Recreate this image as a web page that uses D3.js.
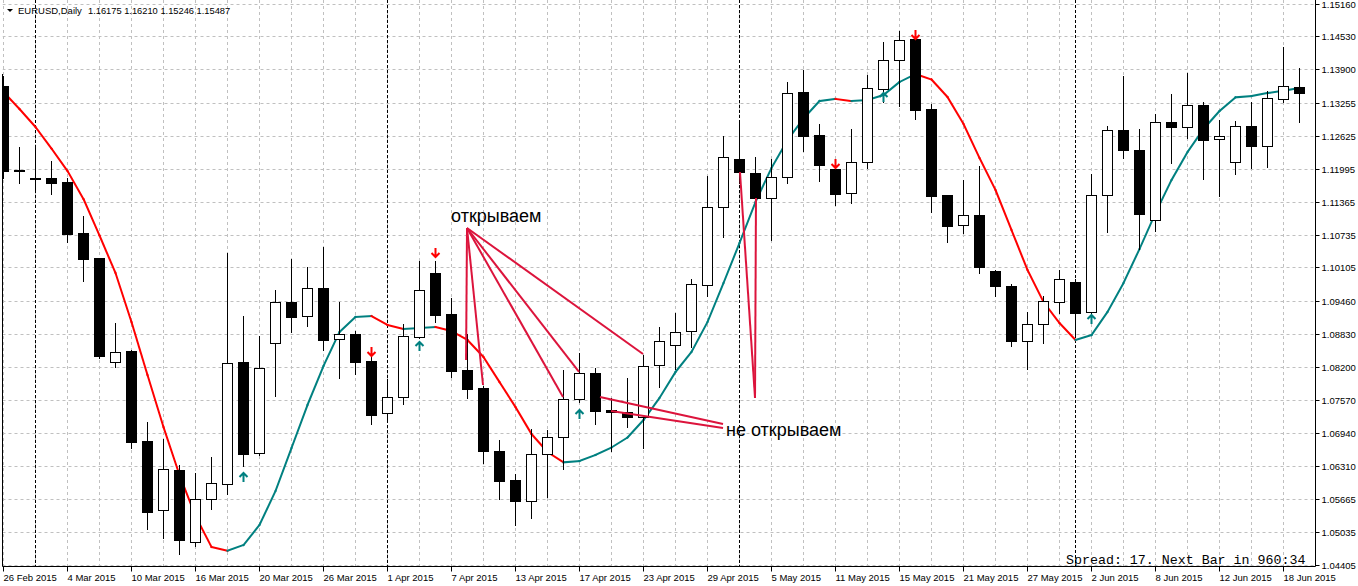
<!DOCTYPE html>
<html>
<head>
<meta charset="utf-8">
<script src="https://cdn.jsdelivr.net/npm/d3@7"></script>
<style>
  body { margin: 0; background: #fff; }
  svg { display: block; }
</style>
</head>
<body>
<div id="chart"></div>
<script>
// EURUSD daily bars, 26 Feb 2015 .. 19 Jun 2015
const firstDay = '2015-02-26';
const lastDay = '2015-06-19';

const openP = [1.13579, 1.11965, 1.11811, 1.11823, 1.11741, 1.10764, 1.10285, 1.08287, 1.08504, 1.06780,
  1.05453, 1.06225, 1.04840, 1.05663, 1.05951, 1.08293, 1.06544, 1.08651, 1.09442, 1.09168,
  1.09705, 1.08728, 1.08824, 1.08312, 1.07322, 1.07617, 1.08778, 1.09998, 1.09207, 1.08140,
  1.07789, 1.06588, 1.06033, 1.05637, 1.06525, 1.06851, 1.07579, 1.08077, 1.07374, 1.07330,
  1.07236, 1.08230, 1.08613, 1.08881, 1.09762, 1.11256, 1.12175, 1.11907, 1.11428, 1.11831,
  1.13464, 1.12641, 1.11990, 1.11524, 1.12118, 1.13522, 1.14072, 1.14480, 1.13139, 1.11497,
  1.10911, 1.11109, 1.10036, 1.09749, 1.08701, 1.09021, 1.09448, 1.09825, 1.09245, 1.11486,
  1.12737, 1.12354, 1.11007, 1.12890, 1.12788, 1.13210, 1.12558, 1.12118, 1.12807, 1.12436,
  1.13336, 1.13560];
const highP = [1.13790, 1.12430, 1.12430, 1.12162, 1.11842, 1.11109, 1.10310, 1.09059, 1.08542, 1.07169,
  1.06832, 1.06334, 1.06186, 1.06493, 1.10400, 1.09193, 1.08804, 1.09685, 1.10285, 1.10132,
  1.10515, 1.09461, 1.08906, 1.08427, 1.07992, 1.09034, 1.10247, 1.10247, 1.09538, 1.08849,
  1.07853, 1.06824, 1.06173, 1.07023, 1.07004, 1.08153, 1.08485, 1.08203, 1.07628, 1.08000,
  1.08446, 1.08988, 1.09245, 1.09902, 1.11875, 1.12641, 1.12884, 1.12239, 1.12206, 1.13675,
  1.13905, 1.12865, 1.12105, 1.12781, 1.13809, 1.14441, 1.14652, 1.14594, 1.13248, 1.11511,
  1.11798, 1.12061, 1.10069, 1.09800, 1.09276, 1.09571, 1.10069, 1.09908, 1.11919, 1.12827,
  1.13796, 1.12775, 1.13056, 1.13451, 1.13853, 1.13298, 1.12953, 1.12928, 1.13298, 1.13503,
  1.14351, 1.13937];
const lowP = [1.11817, 1.11727, 1.11568, 1.11511, 1.10597, 1.09850, 1.08375, 1.08203, 1.06652, 1.05095,
  1.04928, 1.04610, 1.04775, 1.05478, 1.05759, 1.06301, 1.06521, 1.07648, 1.08873, 1.08988,
  1.08529, 1.07992, 1.08069, 1.07111, 1.07169, 1.07483, 1.08753, 1.09065, 1.08012, 1.07609,
  1.06353, 1.05669, 1.05171, 1.05299, 1.05702, 1.06238, 1.07527, 1.07106, 1.06579, 1.07054,
  1.06640, 1.07820, 1.08159, 1.08575, 1.09557, 1.10693, 1.11721, 1.11204, 1.10630, 1.11727,
  1.12340, 1.11766, 1.11294, 1.11333, 1.12003, 1.13279, 1.13202, 1.12953, 1.11166, 1.10597,
  1.10770, 1.10003, 1.09557, 1.08605, 1.08165, 1.08663, 1.09237, 1.08810, 1.09222, 1.10789,
  1.12206, 1.10463, 1.10802, 1.12110, 1.12578, 1.11804, 1.11478, 1.11888, 1.12014, 1.12034,
  1.13279, 1.12895];
const closeP = [1.11957, 1.11951, 1.11798, 1.11727, 1.10750, 1.10272, 1.08414, 1.08490, 1.06767, 1.05426,
  1.06238, 1.04890, 1.05663, 1.05970, 1.08268, 1.06537, 1.08172, 1.09436, 1.09161, 1.09705,
  1.08720, 1.08824, 1.08299, 1.07284, 1.07623, 1.08785, 1.09672, 1.09199, 1.08126, 1.07782,
  1.06579, 1.06020, 1.05637, 1.06525, 1.06851, 1.07579, 1.08077, 1.07360, 1.07326, 1.07234,
  1.08222, 1.08690, 1.08862, 1.09781, 1.11256, 1.12219, 1.11938, 1.11440, 1.11831, 1.13440,
  1.12627, 1.12072, 1.11517, 1.12118, 1.13535, 1.14072, 1.14460, 1.13125, 1.11478, 1.10904,
  1.11103, 1.10118, 1.09754, 1.08701, 1.09021, 1.09456, 1.09877, 1.09237, 1.11492, 1.12737,
  1.12359, 1.11133, 1.12884, 1.12800, 1.13210, 1.12551, 1.12616, 1.12807, 1.12436, 1.13344,
  1.13574, 1.13451];

// trend line indicator (red falling, teal rising)
const trendLine = [1.13465, 1.13139, 1.12794, 1.12382, 1.11952, 1.11415, 1.10716, 1.09998, 1.09059, 1.08044,
  1.07048, 1.06129, 1.05344, 1.04750, 1.04679, 1.04788, 1.05171, 1.05822, 1.06646, 1.07470,
  1.08217, 1.08868, 1.09155, 1.09174, 1.09002, 1.08925, 1.08944, 1.08964, 1.08887, 1.08715,
  1.08389, 1.07910, 1.07431, 1.06914, 1.06569, 1.06372, 1.06397, 1.06512, 1.06656, 1.06847,
  1.07182, 1.07604, 1.08102, 1.08485, 1.09059, 1.09806, 1.10572, 1.11358, 1.12009, 1.12545,
  1.12957, 1.13292, 1.13331, 1.13292, 1.13311, 1.13407, 1.13656, 1.13809, 1.13704, 1.13369,
  1.12852, 1.12201, 1.11588, 1.10821, 1.10055, 1.09442, 1.09040, 1.08715, 1.08810, 1.09251,
  1.09806, 1.10457, 1.11147, 1.11779, 1.12315, 1.12756, 1.13101, 1.13363, 1.13388, 1.13445,
  1.13489, 1.13541];

// signal arrows: bar index and price of the arrow tip
const buyBars = [15, 26, 36, 55, 68];
const buyPrices = [1.06167, 1.08676, 1.07374, 1.13445, 1.09193];
const sellBars = [23, 27, 52, 57];
const sellPrices = [1.08408, 1.10304, 1.12009, 1.14480];

const priceTicks = [1.15160, 1.14530, 1.13900, 1.13255, 1.12625, 1.11995, 1.11365, 1.10735, 1.10105,
  1.09460, 1.08830, 1.08200, 1.07570, 1.06940, 1.06310, 1.05665, 1.05035, 1.04405];

// hand drawn trend lines, [barIndex, price]
const openLabel = { text: 'открываем', at: [27.97, 1.10975] };
const openFrom = [28.97, 1.10860];
const openTo = [[28.91, 1.08331], [29.97, 1.07853], [34.97, 1.07623], [35.97, 1.08102], [39.97, 1.08446]];
const skipLabel = { text: 'не открываем', at: [45.16, 1.06876] };
const skipLines = [
  [[44.97, 1.07106], [37.28, 1.07623]],
  [[44.97, 1.07029], [37.97, 1.07355]],
  [[46.97, 1.07604], [46.03, 1.11932]],
  [[46.97, 1.07604], [47.03, 1.11434]]
];

const width = 1358;
const height = 586;
const plot = { left: 2.5, right: 1315.5, top: 0, bottom: 566.5, leftTop: 74 };

const days = d3.utcDay.range(new Date(firstDay), d3.utcDay.offset(new Date(lastDay), 1))
  .filter(d => d.getUTCDay() !== 0 && d.getUTCDay() !== 6);
const bars = days.map((d, i) => ({
  i, date: d, open: openP[i], high: highP[i], low: lowP[i], close: closeP[i]
}));

const x = d3.scaleLinear().domain([0, bars.length - 1]).range([3.5, 1299.5]);
const y = d3.scaleLinear().domain([1.04405, 1.15160]).range([565, 3.5]);
const py = v => Math.round(y(v)) + 0.5;

const svg = d3.select('#chart').append('svg')
  .attr('width', width)
  .attr('height', height)
  .style('font-family', "'Liberation Sans', Arial, sans-serif");

svg.append('defs').append('clipPath').attr('id', 'plotClip')
  .append('rect')
  .attr('x', plot.left).attr('y', plot.top)
  .attr('width', plot.right - plot.left).attr('height', plot.bottom - plot.top);

// grid
const grid = svg.append('g').attr('clip-path', 'url(#plotClip)');
grid.selectAll('line.h')
  .data(priceTicks)
  .join('line')
  .attr('class', 'h')
  .attr('x1', plot.left).attr('x2', plot.right)
  .attr('y1', d => py(d)).attr('y2', d => py(d))
  .attr('stroke', '#c0c0c0')
  .attr('stroke-dasharray', '3,3');

grid.selectAll('line.v')
  .data(bars.filter(b => b.i % 2 === 0))
  .join('line')
  .attr('class', 'v')
  .attr('x1', d => x(d.i)).attr('x2', d => x(d.i))
  .attr('y1', plot.top).attr('y2', plot.bottom)
  .attr('stroke', '#c0c0c0')
  .attr('stroke-dasharray', '3,3');

// period separators (first bar of each month)
const monthStarts = bars.filter((b, i) => i > 0 && b.date.getUTCMonth() !== bars[i - 1].date.getUTCMonth());
grid.selectAll('line.sep')
  .data(monthStarts)
  .join('line')
  .attr('class', 'sep')
  .attr('x1', d => x(d.i)).attr('x2', d => x(d.i))
  .attr('y1', plot.top).attr('y2', plot.bottom)
  .attr('stroke', '#000')
  .attr('stroke-dasharray', '3,2');

// indicator line, drawn under the candles
const segs = d3.pairs(trendLine.map((v, i) => ({ i, v })));
svg.append('g').attr('clip-path', 'url(#plotClip)')
  .selectAll('line')
  .data(segs)
  .join('line')
  .attr('x1', d => x(d[0].i)).attr('y1', d => y(d[0].v))
  .attr('x2', d => x(d[1].i)).attr('y2', d => y(d[1].v))
  .attr('stroke', d => d[1].v >= d[0].v ? '#008080' : '#ff0000')
  .attr('stroke-width', 2)
  .attr('stroke-linecap', 'square');

// candles
const candle = svg.append('g').attr('clip-path', 'url(#plotClip)')
  .selectAll('g')
  .data(bars)
  .join('g');

candle.append('line')
  .attr('x1', d => x(d.i)).attr('x2', d => x(d.i))
  .attr('y1', d => py(d.high)).attr('y2', d => py(d.low))
  .attr('stroke', '#000')
  .attr('shape-rendering', 'crispEdges');

candle.append('rect')
  .attr('x', d => x(d.i) - 5)
  .attr('width', 10)
  .attr('y', d => py(Math.max(d.open, d.close)))
  .attr('height', d => Math.max(1, py(Math.min(d.open, d.close)) - py(Math.max(d.open, d.close))))
  .attr('fill', d => d.close > d.open ? '#fff' : '#000')
  .attr('stroke', '#000')
  .attr('shape-rendering', 'crispEdges');

// signal arrows
const arrows = svg.append('g').attr('fill', 'none').attr('stroke-width', 2);
arrows.selectAll('path.buy')
  .data(buyBars.map((b, k) => ({ i: b, p: buyPrices[k] })))
  .join('path')
  .attr('class', 'buy')
  .attr('stroke', '#008080')
  .attr('d', d => {
    const cx = x(d.i), t = y(d.p);
    return `M${cx - 4},${t + 4}L${cx},${t}L${cx + 4},${t + 4}M${cx},${t}V${t + 9}`;
  });
arrows.selectAll('path.sell')
  .data(sellBars.map((b, k) => ({ i: b, p: sellPrices[k] })))
  .join('path')
  .attr('class', 'sell')
  .attr('stroke', '#ff0000')
  .attr('d', d => {
    const cx = x(d.i), t = y(d.p);
    return `M${cx - 4},${t - 4}L${cx},${t}L${cx + 4},${t - 4}M${cx},${t}V${t - 9}`;
  });

// annotations
const pt = a => [x(a[0]), y(a[1])];
const notes = svg.append('g');
const noteLines = openTo.map(e => [openFrom, e]).concat(skipLines);
notes.selectAll('line')
  .data(noteLines)
  .join('line')
  .attr('x1', d => pt(d[0])[0]).attr('y1', d => pt(d[0])[1])
  .attr('x2', d => pt(d[1])[0]).attr('y2', d => pt(d[1])[1])
  .attr('stroke', '#dc143c')
  .attr('stroke-width', 2);
notes.selectAll('text')
  .data([openLabel, skipLabel])
  .join('text')
  .attr('x', d => pt(d.at)[0])
  .attr('y', d => pt(d.at)[1])
  .attr('font-size', 18)
  .attr('fill', '#000')
  .text(d => d.text);

// frame
svg.append('path')
  .attr('d', `M${plot.left},${plot.leftTop}V${plot.bottom}H${plot.right}V${plot.top}`)
  .attr('fill', 'none')
  .attr('stroke', '#000');

// price axis
const yAxis = svg.append('g');
yAxis.selectAll('line')
  .data(priceTicks)
  .join('line')
  .attr('x1', plot.right).attr('x2', plot.right + 4)
  .attr('y1', d => py(d)).attr('y2', d => py(d))
  .attr('stroke', '#000');
yAxis.selectAll('text')
  .data(priceTicks)
  .join('text')
  .attr('x', plot.right + 6)
  .attr('y', d => py(d))
  .attr('dy', '0.35em')
  .attr('font-size', 9.5)
  .attr('fill', '#000')
  .text(d => d.toFixed(5));

// time axis
const fmt = d3.utcFormat('%-d %b %Y');
const timeTicks = bars.filter(b => b.i % 4 === 0);
const xAxis = svg.append('g');
xAxis.selectAll('line')
  .data(timeTicks)
  .join('line')
  .attr('x1', d => x(d.i)).attr('x2', d => x(d.i))
  .attr('y1', plot.bottom).attr('y2', plot.bottom + 5)
  .attr('stroke', '#000');
xAxis.selectAll('text')
  .data(timeTicks)
  .join('text')
  .attr('x', d => x(d.i))
  .attr('y', 581)
  .attr('font-size', 9.5)
  .attr('fill', '#000')
  .text(d => fmt(d.date));

// header
svg.append('path').attr('d', 'M7,9H13L10,12Z').attr('fill', '#000');
svg.append('text')
  .attr('x', 18).attr('y', 14)
  .attr('font-size', 9.5)
  .attr('fill', '#000')
  .text('EURUSD,Daily');
svg.append('text')
  .attr('x', 88).attr('y', 14)
  .attr('font-size', 9.3)
  .attr('fill', '#000')
  .text('1.16175 1.16210 1.15246 1.15487');

svg.append('text')
  .attr('x', 1066).attr('y', 564)
  .attr('font-family', "'Liberation Mono', 'Courier New', monospace")
  .attr('font-size', 13.3)
  .attr('fill', '#000')
  .text('Spread: 17. Next Bar in 960:34');
</script>
</body>
</html>
